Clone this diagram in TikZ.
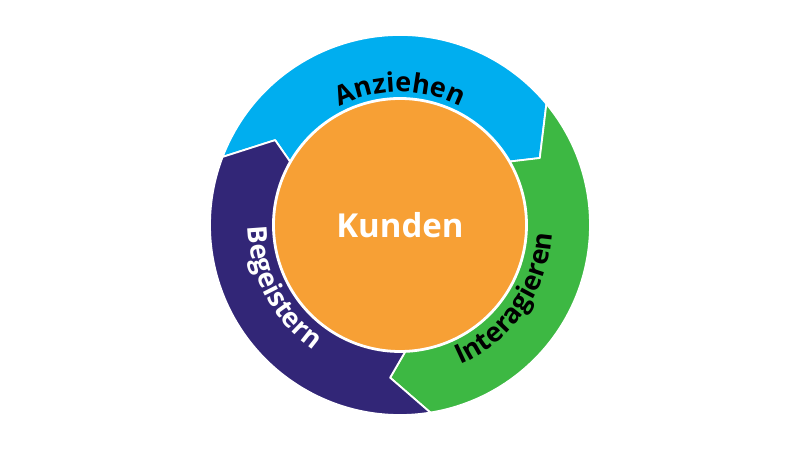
\documentclass[tikz,border=0pt]{standalone}
\usepackage{fontspec}
\setmainfont{Open Sans}
\usetikzlibrary{decorations.text}
\definecolor{cblue}{HTML}{00AEEF}
\definecolor{cgreen}{HTML}{3DB843}
\definecolor{cpurple}{HTML}{322677}
\definecolor{corange}{HTML}{F7A035}
\tikzset{seg/.style={draw=white,line width=1.8pt,line join=round},
  lbl/.style={decorate,decoration={text along path,text align=center,
    text={|\bfseries\fontsize{27}{27}\selectfont\color{#1}|}}}}
\begin{document}
\begin{tikzpicture}
\useasboundingbox (0,0) rectangle (800pt,450pt);
\fill[white] (0,0) rectangle (800pt,450pt);
\begin{scope}[shift={(400pt,225pt)}]
\fill[cblue,seg] (159:190pt) arc[start angle=159,end angle=39.6,radius=190pt]
  -- (25.6:155pt) -- (30:127pt) arc[start angle=30,end angle=150,radius=127pt]
  -- (145.8:151pt) -- cycle;
\fill[cgreen,seg] (39.6:190pt) arc[start angle=39.6,end angle=-80.8,radius=190pt]
  -- (-93.7:153pt) -- (-87.7:127pt) arc[start angle=-87.7,end angle=30,radius=127pt]
  -- (25.6:155pt) -- cycle;
\fill[cpurple,seg] (-80.8:190pt) arc[start angle=-80.8,end angle=-201,radius=190pt]
  -- (145.8:151pt) -- (150:127pt) arc[start angle=-210,end angle=-87.7,radius=127pt]
  -- (-93.7:153pt) -- cycle;
\node[circle,fill=corange,draw=white,line width=1.8pt,minimum size=252pt,inner sep=0pt,
  text=white,font=\bfseries\fontsize{33}{33}\selectfont] (kunden) at (0,0) {Kunden};
\path[decorate,decoration={text along path,text align=center,
  text={|\bfseries\fontsize{27}{27}\selectfont|Anziehen}}]
  (140:133pt) arc[start angle=140,end angle=40,radius=133pt];
\path[decorate,decoration={text along path,text align=center,
  text={|\bfseries\fontsize{27}{27}\selectfont|Interagieren}}]
  (-80:152pt) arc[start angle=-80,end angle=10,radius=152pt];
\path[decorate,decoration={text along path,text align=center,
  text={|\bfseries\fontsize{27}{27}\selectfont\color{white}|Begeistern}}]
  (163:152pt) arc[start angle=163,end angle=253,radius=152pt];
\end{scope}
\end{tikzpicture}
\end{document}
